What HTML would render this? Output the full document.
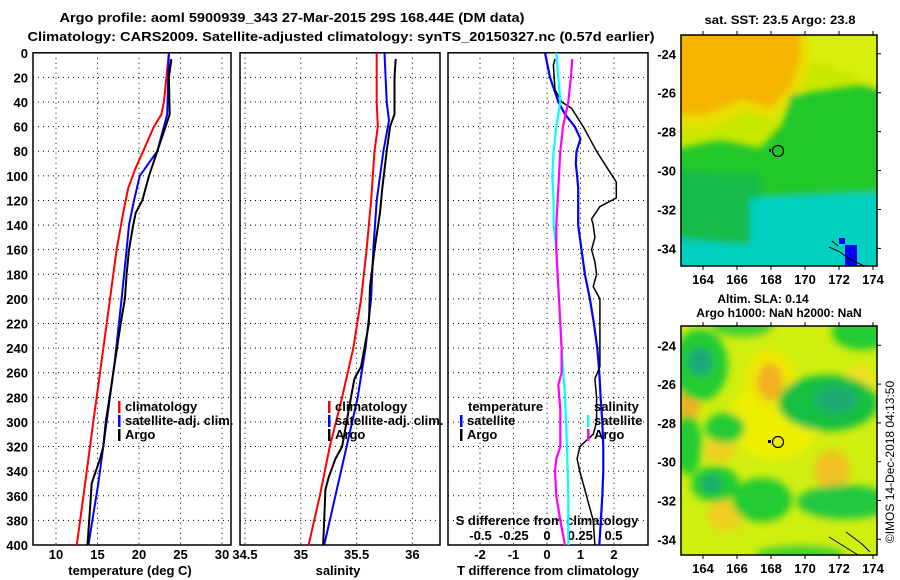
<!DOCTYPE html>
<html><head><meta charset="utf-8"><style>
html,body{margin:0;padding:0;background:#fff;}
svg{display:block;font-family:"Liberation Sans",Arial,sans-serif;font-weight:bold;}
</style></head><body>
<svg id="fig" width="900" height="580" viewBox="0 0 900 580" xmlns="http://www.w3.org/2000/svg">
<defs>
<filter id="blur1" x="-20%" y="-20%" width="140%" height="140%"><feGaussianBlur stdDeviation="3.5"/></filter>
<filter id="blur2" x="-30%" y="-30%" width="160%" height="160%"><feGaussianBlur stdDeviation="4"/></filter>
<clipPath id="clipTop"><rect x="681" y="35" width="196" height="231"/></clipPath>
<clipPath id="clipBot"><rect x="681" y="326" width="196" height="229"/></clipPath>
</defs>
<text x="292" y="22" text-anchor="middle" font-size="13" textLength="465" lengthAdjust="spacingAndGlyphs">Argo profile: aoml 5900939_343 27-Mar-2015 29S 168.44E (DM data)</text>
<text x="341" y="41" text-anchor="middle" font-size="13" textLength="627" lengthAdjust="spacingAndGlyphs">Climatology: CARS2009. Satellite-adjusted climatology: synTS_20150327.nc (0.57d earlier)</text>
<text x="780" y="24" text-anchor="middle" font-size="12" textLength="151" lengthAdjust="spacingAndGlyphs">sat. SST: 23.5 Argo: 23.8</text>
<text x="763" y="303" text-anchor="middle" font-size="12">Altim. SLA: 0.14</text>
<text x="779" y="317" text-anchor="middle" font-size="12">Argo h1000: NaN h2000: NaN</text>
<text transform="translate(894,462) rotate(-90)" text-anchor="middle" font-size="12" font-weight="normal">©IMOS 14-Dec-2018 04:13:50</text>

<!-- SST map -->
<g clip-path="url(#clipTop)">
<rect x="681" y="35" width="196" height="231" fill="#c8e800"/>
<g filter="url(#blur1)">
<polygon points="670,25 815,25 812,60 800,95 775,118 745,112 710,128 670,128" fill="#e8e000"/>
<polygon points="670,25 800,25 800,60 790,88 770,108 742,100 705,115 670,115" fill="#f5b400"/>
<polygon points="810,25 890,25 890,90 840,70 812,60" fill="#d8ee10"/>
<polygon points="790,95 860,85 890,92 890,205 760,208 700,180 670,172 670,150 720,140 760,148 782,125" fill="#22c82a"/>
<polygon points="670,170 760,175 765,250 670,255" fill="#18bb48"/>
<polygon points="750,198 890,192 890,280 750,280" fill="#00d0c0"/>
<polygon points="670,238 760,246 760,280 670,280" fill="#00d0c0"/>
</g>
<rect x="845" y="245" width="12" height="21" fill="#0000ee"/>
<rect x="839" y="238" width="6" height="6" fill="#0000ee"/>
<path d="M829,247 L840,252 L848,258 L856,262 L864,266" fill="none" stroke="#000" stroke-width="1"/>
<path d="M832,241 L838,246" fill="none" stroke="#000" stroke-width="1"/>
</g>
<rect x="681" y="35" width="196" height="231" fill="none" stroke="#000" stroke-width="1.5"/>
<circle cx="778" cy="151" r="5.5" fill="none" stroke="#000" stroke-width="1.2"/>
<rect x="769" y="149" width="2" height="3" fill="#000"/>

<!-- SLA map -->
<g clip-path="url(#clipBot)">
<rect x="681" y="326" width="196" height="229" fill="#d0ee10"/>
<g filter="url(#blur2)">
<ellipse cx="775" cy="420" rx="45" ry="40" fill="#eef000"/>
<ellipse cx="770" cy="380" rx="24" ry="30" fill="#f0e800"/>
<ellipse cx="770" cy="382" rx="13" ry="19" fill="#f0b020"/>
<ellipse cx="688" cy="405" rx="12" ry="16" fill="#f0b020"/>
<ellipse cx="832" cy="470" rx="18" ry="20" fill="#f0c020"/>
<ellipse cx="720" cy="450" rx="16" ry="12" fill="#f0d020"/>
<ellipse cx="725" cy="515" rx="18" ry="16" fill="#f0d020"/>
<ellipse cx="860" cy="380" rx="14" ry="14" fill="#f0e020"/>
<ellipse cx="700" cy="365" rx="28" ry="36" fill="#22cc33"/>
<ellipse cx="700" cy="362" rx="13" ry="14" fill="#1aa878"/>
<ellipse cx="828" cy="403" rx="50" ry="28" fill="#15c040"/>
<ellipse cx="836" cy="400" rx="22" ry="14" fill="#1aab70"/>
<ellipse cx="725" cy="428" rx="20" ry="15" fill="#22cc33"/>
<ellipse cx="688" cy="445" rx="14" ry="30" fill="#22cc33"/>
<ellipse cx="715" cy="484" rx="24" ry="18" fill="#22cc33"/>
<ellipse cx="712" cy="484" rx="10" ry="9" fill="#1aab70"/>
<ellipse cx="762" cy="500" rx="30" ry="22" fill="#22cc33"/>
<ellipse cx="845" cy="502" rx="48" ry="17" fill="#22c840"/>
<ellipse cx="862" cy="332" rx="30" ry="18" fill="#22cc33"/>
<ellipse cx="742" cy="326" rx="30" ry="11" fill="#44d030"/>
<ellipse cx="800" cy="555" rx="45" ry="9" fill="#44d030"/>
</g>
<path d="M829,537 L842,545 L850,550 L858,555" fill="none" stroke="#000" stroke-width="1"/>
<path d="M846,532 L862,544 L870,552" fill="none" stroke="#000" stroke-width="1"/>
</g>
<rect x="681" y="326" width="196" height="229" fill="none" stroke="#000" stroke-width="1.5"/>
<circle cx="778" cy="442" r="5.5" fill="none" stroke="#000" stroke-width="1.2"/>
<rect x="768" y="440" width="3" height="3" fill="#000"/>

<g id="dyn"></g>
</svg>
<script>
// ---- data ----
var tDepthClim = [0,40,50,60,80,95,110,130,160,200,250,300,350,400];
var tClim      = [23.6,23.0,22.7,21.8,20.5,19.5,18.7,18.1,17.3,16.5,15.5,14.5,13.5,12.5];
var tDepthSat  = [0,50,60,80,100,120,140,160,200,250,300,350,400];
var tSat       = [23.6,23.4,23.0,22.2,20.1,19.4,18.8,18.5,17.9,17.1,16.1,15.1,13.9];
var tDepthArgo = [5,20,50,60,80,100,120,130,140,160,180,200,220,260,300,320,330,340,350,360,380,400];
var tArgo      = [23.9,23.6,23.7,23.2,22.2,21.2,20.4,19.6,19.3,18.8,18.5,18.3,17.8,16.9,16.0,15.7,15.3,14.8,14.3,14.2,14.0,13.8];

var sDepthClim = [0,40,60,80,120,160,200,240,280,320,360,400];
var sClim      = [35.68,35.68,35.69,35.66,35.63,35.59,35.54,35.47,35.37,35.26,35.17,35.07];
var sDepthSat  = [0,40,55,80,120,160,200,240,280,320,360,400];
var sSat       = [35.75,35.77,35.79,35.74,35.68,35.65,35.63,35.58,35.51,35.41,35.31,35.21];
var sDepthArgo = [5,20,50,60,80,110,130,160,190,220,255,265,280,300,320,330,345,355,380,400];
var sArgo      = [35.85,35.84,35.84,35.80,35.77,35.73,35.71,35.66,35.62,35.61,35.54,35.48,35.45,35.41,35.37,35.31,35.25,35.22,35.21,35.20];

var dDepthTSat = [0,20,40,50,60,70,80,90,100,110,120,140,160,180,200,220,240,260,280,300,320,340,360,380,400];
var dTSat      = [-0.06,0.09,0.34,0.54,0.83,1.0,0.88,0.86,0.9,0.93,0.93,0.93,1.03,1.13,1.28,1.4,1.5,1.56,1.6,1.65,1.68,1.68,1.65,1.61,1.56];
var dDepthTArgo= [5,10,30,40,45,60,80,95,105,118,125,135,140,150,160,170,180,190,200,220,240,255,265,280,300,310,320,330,340,360,380,400];
var dTArgo     = [0.24,0.19,0.24,0.44,0.73,1.08,1.48,1.83,2.07,2.07,1.58,1.33,1.38,1.43,1.33,1.43,1.48,1.38,1.58,1.58,1.58,1.58,1.43,1.48,1.48,1.38,0.98,0.9,0.98,1.18,1.38,1.43];
var dDepthSSat = [0,40,60,80,100,120,140,160,180,200,240,280,320,360,400];
var dSSat      = [0.07,0.10,0.07,0.05,0.04,0.05,0.05,0.07,0.08,0.09,0.11,0.135,0.15,0.16,0.16];
var dDepthSArgo= [5,20,40,60,80,100,120,140,160,180,200,240,260,270,290,300,320,330,340,360,380,400];
var dSArgo     = [0.19,0.18,0.16,0.12,0.10,0.09,0.08,0.07,0.07,0.08,0.09,0.11,0.11,0.085,0.10,0.10,0.10,0.07,0.06,0.07,0.10,0.135];

var depthTicks = [0,20,40,60,80,100,120,140,160,180,200,220,240,260,280,300,320,340,360,380,400];
var tTicks = [10,15,20,25,30];
var sTicks = [34.5,35,35.5,36];
var dTTicks = [-2,-1,0,1,2];
var dSTicks = [-0.5,-0.25,0,0.25,0.5];
var latTicks = [-24,-26,-28,-30,-32,-34];
var lonTicks = [164,166,168,170,172,174];

// ---- axes ----
var TOP=52.8, BOT=545;
function yD(d){return TOP + d*(BOT-TOP)/400;}
function xT(t){return 56 + (t-10)*8.3;}
function xS(s){return 245 + (s-34.5)*111.6;}
function xDT(v){return 547 + v*33.5;}
function xDS(v){return 547 + v*133;}
function latTop(l){return 53.8 + (-24-l)*19.46;}
function latBot(l){return 345.3 + (-24-l)*19.4;}
function xLon(l){return 703 + (l-164)*17;}

var NS='http://www.w3.org/2000/svg';
var root=document.getElementById('dyn');
function mk(tag,attrs,parent){var e=document.createElementNS(NS,tag);for(var k in attrs)e.setAttribute(k,attrs[k]);(parent||root).appendChild(e);return e;}

var panels=[
 {x0:33,x1:231,name:'temperature-panel',xt:tTicks,fx:xT,lab:'temperature (deg C)',lx:130},
 {x0:240,x1:440,name:'salinity-panel',xt:sTicks,fx:xS,lab:'salinity',lx:338},
 {x0:448,x1:648,name:'difference-panel',xt:dTTicks,fx:xDT,lab:'T difference from climatology',lx:548}
];
panels.forEach(function(p,pi){
  var g=mk('g',{});
  
  
  depthTicks.forEach(function(d){
    if(d===0||d===400)return;
    var l=mk('line',{x1:p.x0,x2:p.x1,y1:yD(d),y2:yD(d),stroke:'#000','stroke-width':1,'stroke-dasharray':'1,4'},g);
    
    
  });
  p.xt.forEach(function(t){
    var x=p.fx(t);
    if(x>p.x0+2&&x<p.x1-2){
      var l=mk('line',{x1:x,x2:x,y1:TOP,y2:BOT,stroke:'#000','stroke-width':1,'stroke-dasharray':'1,4'},g);
      
      
    }
    var tx=mk('text',{x:x,y:559,'text-anchor':'middle','font-size':13},g);
    tx.textContent=String(t);
    
    
  });
  var at=mk('text',{x:p.lx,y:575,'text-anchor':'middle','font-size':13},g);
  at.textContent=p.lab;
  
  
  var fr=mk('rect',{x:p.x0,y:TOP,width:p.x1-p.x0,height:BOT-TOP,fill:'none',stroke:'#000','stroke-width':1.5},g);
  
  
});
depthTicks.forEach(function(d){
  var tx=mk('text',{x:28,y:yD(d)+5,'text-anchor':'end','font-size':13});
  tx.textContent=String(d);
  
  
});
dSTicks.forEach(function(s){
  var tx=mk('text',{x:xDS(s),y:540,'text-anchor':'middle','font-size':13});
  tx.textContent=String(s);
  
  
});
var st=mk('text',{x:547,y:525,'text-anchor':'middle','font-size':13});
st.textContent='S difference from climatology';



function series(xs,ds,fx,color,name,w){
  var pts=xs.map(function(v,i){return fx(v).toFixed(1)+','+yD(ds[i]).toFixed(1);}).join(' ');
  var l=mk('polyline',{points:pts,fill:'none',stroke:color,'stroke-width':w||2,'stroke-linejoin':'round'});
  
  
}
series(tClim,tDepthClim,xT,'#ff0000','temp-climatology-line');
series(tSat,tDepthSat,xT,'#0000ff','temp-satellite-line');
series(tArgo,tDepthArgo,xT,'#000','temp-argo-line');
series(sClim,sDepthClim,xS,'#ff0000','sal-climatology-line');
series(sSat,sDepthSat,xS,'#0000ff','sal-satellite-line');
series(sArgo,sDepthArgo,xS,'#000','sal-argo-line');
series(dTSat,dDepthTSat,xDT,'#0000ff','tdiff-satellite-line',2.2);
series(dTArgo,dDepthTArgo,xDT,'#000','tdiff-argo-line',1.5);
series(dSSat,dDepthSSat,xDS,'#00ffff','sdiff-satellite-line',2.2);
series(dSArgo,dDepthSArgo,xDS,'#ff00ff','sdiff-argo-line',2.2);

function legend(x,y,color,label,name){
  var g=mk('g',{});
  
  
  if(color)mk('rect',{x:x,y:y-10,width:2.5,height:12,fill:color},g);
  var t=mk('text',{x:x+7,y:y,'font-size':13},g);
  t.textContent=label;
}
legend(118,411,'#ff0000','climatology','legend-entry-climatology');
legend(118,425,'#0000ff','satellite-adj. clim.','legend-entry-satellite-adj');
legend(118,439,'#000','Argo','legend-entry-argo');
legend(328,411,'#ff0000','climatology','legend-entry-climatology-s');
legend(328,425,'#0000ff','satellite-adj. clim.','legend-entry-satellite-adj-s');
legend(328,439,'#000','Argo','legend-entry-argo-s');
legend(461,411,null,'temperature','legend-heading-temperature');
legend(460,425,'#0000ff','satellite','legend-entry-t-satellite');
legend(460,439,'#000','Argo','legend-entry-t-argo');
legend(587,411,null,'salinity','legend-heading-salinity');
legend(587,425,'#00ffff','satellite','legend-entry-s-satellite');
legend(587,439,'#ff00ff','Argo','legend-entry-s-argo');

// map ticks
[[latTop,35,266],[latBot,326,555]].forEach(function(m,mi){
  latTicks.forEach(function(l){
    var y=m[0](l);
    var t=mk('text',{x:676,y:y+5,'text-anchor':'end','font-size':13});
    t.textContent=String(l);
    
    
    mk('line',{x1:877,x2:881,y1:y,y2:y,stroke:'#000'});
  });
  lonTicks.forEach(function(l){
    var x=xLon(l);
    var t=mk('text',{x:x,y:m[2]+18,'text-anchor':'middle','font-size':13});
    t.textContent=String(l);
    
    
    mk('line',{x1:x,x2:x,y1:m[2],y2:m[2]+4,stroke:'#000'});
    mk('line',{x1:x,x2:x,y1:m[1]-4,y2:m[1],stroke:'#000'});
  });
});
</script>
</body></html>
